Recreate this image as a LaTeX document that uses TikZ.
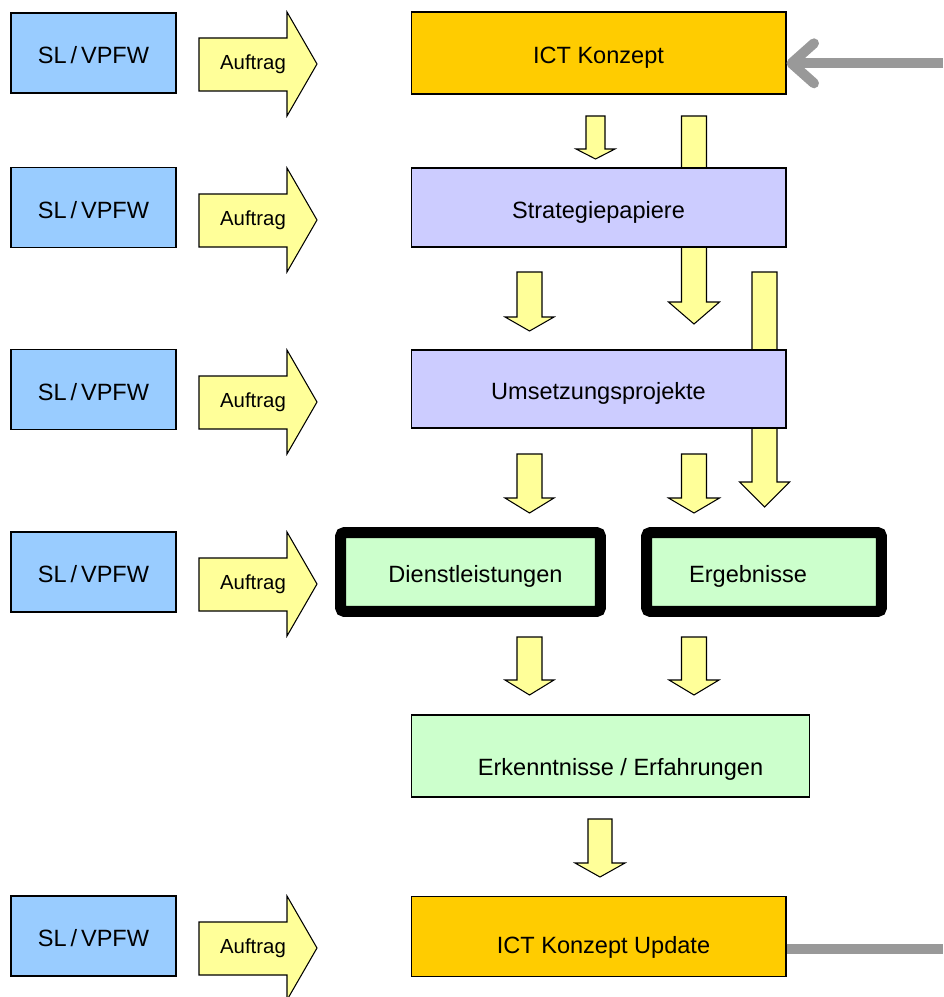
\documentclass[tikz,border=0pt]{standalone}
\usepackage{fontspec}
\setmainfont{Liberation Sans}
\usepackage{tikz}
\usetikzlibrary{arrows.meta,positioning}

\definecolor{slblue}{RGB}{153,204,255}
\definecolor{pale}{RGB}{255,255,153}
\definecolor{konzept}{RGB}{255,204,0}
\definecolor{lilac}{RGB}{204,204,255}
\definecolor{mint}{RGB}{204,255,204}
\definecolor{fbgray}{RGB}{153,153,153}

% block arrow pointing down: x, shaft top, head base, tip, shaft width, head width
\newcommand{\downblock}[6]{%
  \draw[yblock] (#1-#5/2,#2) -- (#1+#5/2,#2) -- (#1+#5/2,#3) -- (#1+#6/2,#3)
    -- (#1,#4) -- (#1-#6/2,#3) -- (#1-#5/2,#3) -- cycle;}
% "Auftrag" arrow next to the SL / VPFW box, #2 = top of the row
\newcommand{\auftrag}[2]{%
  \draw[yblock] (199,#2+26) -- (287,#2+26) -- (287,#2) -- (317,#2+52)
    -- (287,#2+104) -- (287,#2+79) -- (199,#2+79) -- cycle;
  \node[order] (#1) at (253,#2+50) {Auftrag};}

\begin{document}
\begin{tikzpicture}[
  x=0.02cm, y=-0.02cm,
  font=\fontsize{13.4}{16}\selectfont,
  box/.style={draw, line width=0.6pt, fill=#1, inner sep=0pt,
              text height=12.5pt, text depth=0pt,
              minimum width=7.5cm, minimum height=1.6cm},
  sl/.style={box=slblue, minimum width=3.3cm},
  result/.style={draw=black, line width=0.22cm, rounded corners=0.08cm,
                 fill=mint, inner sep=0pt, text height=12.5pt, text depth=0pt,
                 minimum height=1.58cm},
  yblock/.style={draw, line width=0.6pt, fill=pale, line join=miter},
  order/.style={font=\fontsize{11.6}{14}\selectfont, inner sep=0pt,
                text height=8.4pt, text depth=0pt},
  feedback/.style={draw=fbgray, line width=0.2cm}
]
\useasboundingbox (0,0) rectangle (943,997);

\downblock{595.5}{116}{149}{159}{19}{39}
\downblock{694}{116}{302}{324}{25}{51}
\downblock{529.5}{272}{317}{331}{25}{49}
\downblock{764.5}{272}{482}{507}{25}{50}
\downblock{529.5}{454}{498}{513}{25}{49}
\downblock{694}{454}{498}{513}{25}{51}
\downblock{529.5}{637}{680}{695}{25}{49}
\downblock{694}{637}{680}{695}{25}{50}
\downblock{600}{819}{863}{877}{24}{50}

\node[sl] (sl1) at (93.5,53) {SL\,/\,VPFW};
\node[sl] (sl2) at (93.5,207.5) {SL\,/\,VPFW};
\node[sl] (sl3) at (93.5,389.5) {SL\,/\,VPFW};
\node[sl] (sl4) at (93.5,572) {SL\,/\,VPFW};
\node[sl] (sl5) at (93.5,936) {SL\,/\,VPFW};

\auftrag{auf1}{12}
\auftrag{auf2}{168}
\auftrag{auf3}{350}
\auftrag{auf4}{532}
\auftrag{auf5}{896}

\node[box=konzept, minimum height=1.64cm] (ict) at (598.5,53) {ICT Konzept};
\node[box=lilac, minimum height=1.58cm] (strat) at (598.5,207.5) {Strategiepapiere};
\node[box=lilac, minimum height=1.56cm] (ums) at (598.5,389) {Umsetzungsprojekte};
\node[result, minimum width=5.2cm] (dienst) at (470.5,572) {\hspace*{0.2cm}Dienstleistungen};
\node[result, minimum width=4.7cm] (erg) at (764,572) {Ergebnisse\hspace*{0.64cm}};
\node[box=mint, minimum width=7.98cm, minimum height=1.64cm, text height=22.2pt]
  (erk) at (610.5,756) {\hspace*{0.4cm}Erkenntnisse / Erfahrungen};
\node[box=konzept, text height=19.9pt] (upd) at (598.5,936.5) {\hspace*{0.2cm}ICT Konzept Update};

\coordinate (fbin) at (943,63.3);
\coordinate (fbout) at (943,949);
\draw[feedback, -{Straight Barb[length=0.45cm, width=0.8cm, line cap=round, line join=round]}]
  (fbin) -- (fbin -| ict.east);
\draw[feedback] (upd.east |- fbout) -- (fbout);
\end{tikzpicture}
\end{document}
